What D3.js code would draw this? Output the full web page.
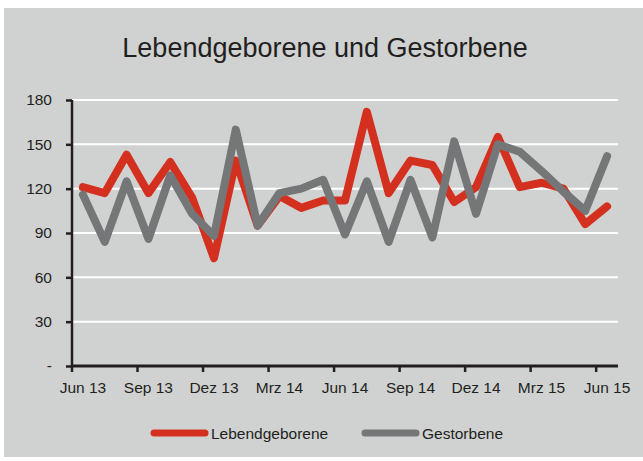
<!DOCTYPE html>
<html>
<head>
<meta charset="utf-8">
<script src="https://cdn.jsdelivr.net/npm/d3@7"></script>
<style>
  body { margin: 0; background: #fff; }
  text { font-family: "Liberation Sans", Arial, sans-serif; fill: #231f20; }
</style>
</head>
<body>
<div id="chart"></div>
<script>
// data (monthly, Jun 13 .. Jun 15)
var months = ["Jun 13","Jul 13","Aug 13","Sep 13","Okt 13","Nov 13","Dez 13","Jan 14","Feb 14",
  "Mrz 14","Apr 14","Mai 14","Jun 14","Jul 14","Aug 14","Sep 14","Okt 14","Nov 14","Dez 14",
  "Jan 15","Feb 15","Mrz 15","Apr 15","Mai 15","Jun 15"];
var lebendgeborene = [121,117,143,117,138,114,73,139,95,115,107,112,112,172,117,139,136,111,121,155,121,124,120,96,108];
var gestorbene     = [116,84,125,86,129,103,88,160,95,117,120,126,89,125,84,126,87,152,103,150,145,132,118,105,142];
var yTicks = [0,30,60,90,120,150,180];
var tickLabels = ["Jun 13","Sep 13","Dez 13","Mrz 14","Jun 14","Sep 14","Dez 14","Mrz 15","Jun 15"];

var W = 643, H = 461;
var margin = {top: 100, left: 72, right: 25, bottom: 95};
var width = W - margin.left - margin.right,
    height = H - margin.top - margin.bottom;

var svg = d3.select("#chart").append("svg")
  .attr("width", W)
  .attr("height", H);

// panel background
svg.append("rect")
  .attr("x", 4).attr("y", 8)
  .attr("width", W - 4).attr("height", 449)
  .attr("fill", "#d0d2d1");

svg.append("text")
  .attr("x", 325).attr("y", 57)
  .attr("text-anchor", "middle")
  .attr("font-size", "27px")
  .text("Lebendgeborene und Gestorbene");

var g = svg.append("g")
  .attr("transform", "translate(" + margin.left + "," + margin.top + ")");

var x = d3.scaleBand().domain(months).range([0, width]);
var y = d3.scaleLinear().domain([0, 180]).range([height, 0]);

// gridlines
g.append("g").selectAll("line")
  .data(yTicks.filter(function(d) { return d > 0; }))
  .enter().append("line")
    .attr("x1", 0).attr("x2", width)
    .attr("y1", function(d) { return y(d); })
    .attr("y2", function(d) { return y(d); })
    .attr("stroke", "#fff")
    .attr("stroke-width", 2);

var line = d3.line()
  .x(function(d, i) { return x(months[i]) + x.bandwidth() / 2; })
  .y(function(d) { return y(d); });

g.append("path")
  .datum(lebendgeborene)
  .attr("d", line)
  .attr("fill", "none")
  .attr("stroke", "#d4301f")
  .attr("stroke-width", 8)
  .attr("stroke-linejoin", "round")
  .attr("stroke-linecap", "round");

g.append("path")
  .datum(gestorbene)
  .attr("d", line)
  .attr("fill", "none")
  .attr("stroke", "#747677")
  .attr("stroke-width", 8)
  .attr("stroke-linejoin", "round")
  .attr("stroke-linecap", "round");

// y axis
var yAxis = g.append("g")
  .call(d3.axisLeft(y).tickValues(yTicks).tickSize(6).tickPadding(14)
    .tickFormat(function(d) { return d === 0 ? "-" : d; }));
yAxis.select(".domain").attr("stroke", "#231f20").attr("stroke-width", 2.5)
  .attr("d", "M0," + y(180) + "V" + height);
yAxis.selectAll(".tick line").attr("stroke", "#231f20").attr("stroke-width", 2.5);
yAxis.selectAll("text").attr("font-size", "15.5px").style("fill", "#231f20");

// x axis: ticks between categories every 3 months, labels centred on categories
var xg = g.append("g").attr("transform", "translate(0," + height + ")");
xg.append("line")
  .attr("x1", 0).attr("x2", width)
  .attr("stroke", "#231f20").attr("stroke-width", 3);
var tickIdx = d3.range(0, months.length, 3);
xg.selectAll(".xt")
  .data(tickIdx)
  .enter().append("line")
    .attr("class", "xt")
    .attr("x1", function(i) { return x(months[i]); })
    .attr("x2", function(i) { return x(months[i]); })
    .attr("y1", 0).attr("y2", 6)
    .attr("stroke", "#231f20").attr("stroke-width", 2.5);
xg.selectAll(".xl")
  .data(tickLabels)
  .enter().append("text")
    .attr("class", "xl")
    .attr("x", function(d) { return x(d) + x.bandwidth() / 2; })
    .attr("y", 27)
    .attr("text-anchor", "middle")
    .attr("font-size", "15.5px")
    .text(function(d) { return d; });

// legend
var legend = [
  {name: "Lebendgeborene", color: "#d4301f", x: 152},
  {name: "Gestorbene", color: "#747677", x: 363}
];
var lg = svg.selectAll(".lg").data(legend).enter().append("g")
  .attr("transform", function(d) { return "translate(" + d.x + ",433)"; });
lg.append("line")
  .attr("x1", 2).attr("x2", 53)
  .attr("stroke", function(d) { return d.color; })
  .attr("stroke-width", 7)
  .attr("stroke-linecap", "round");
lg.append("text")
  .attr("x", 59).attr("y", 6)
  .attr("font-size", "15.5px")
  .text(function(d) { return d.name; });
</script>
</body>
</html>
